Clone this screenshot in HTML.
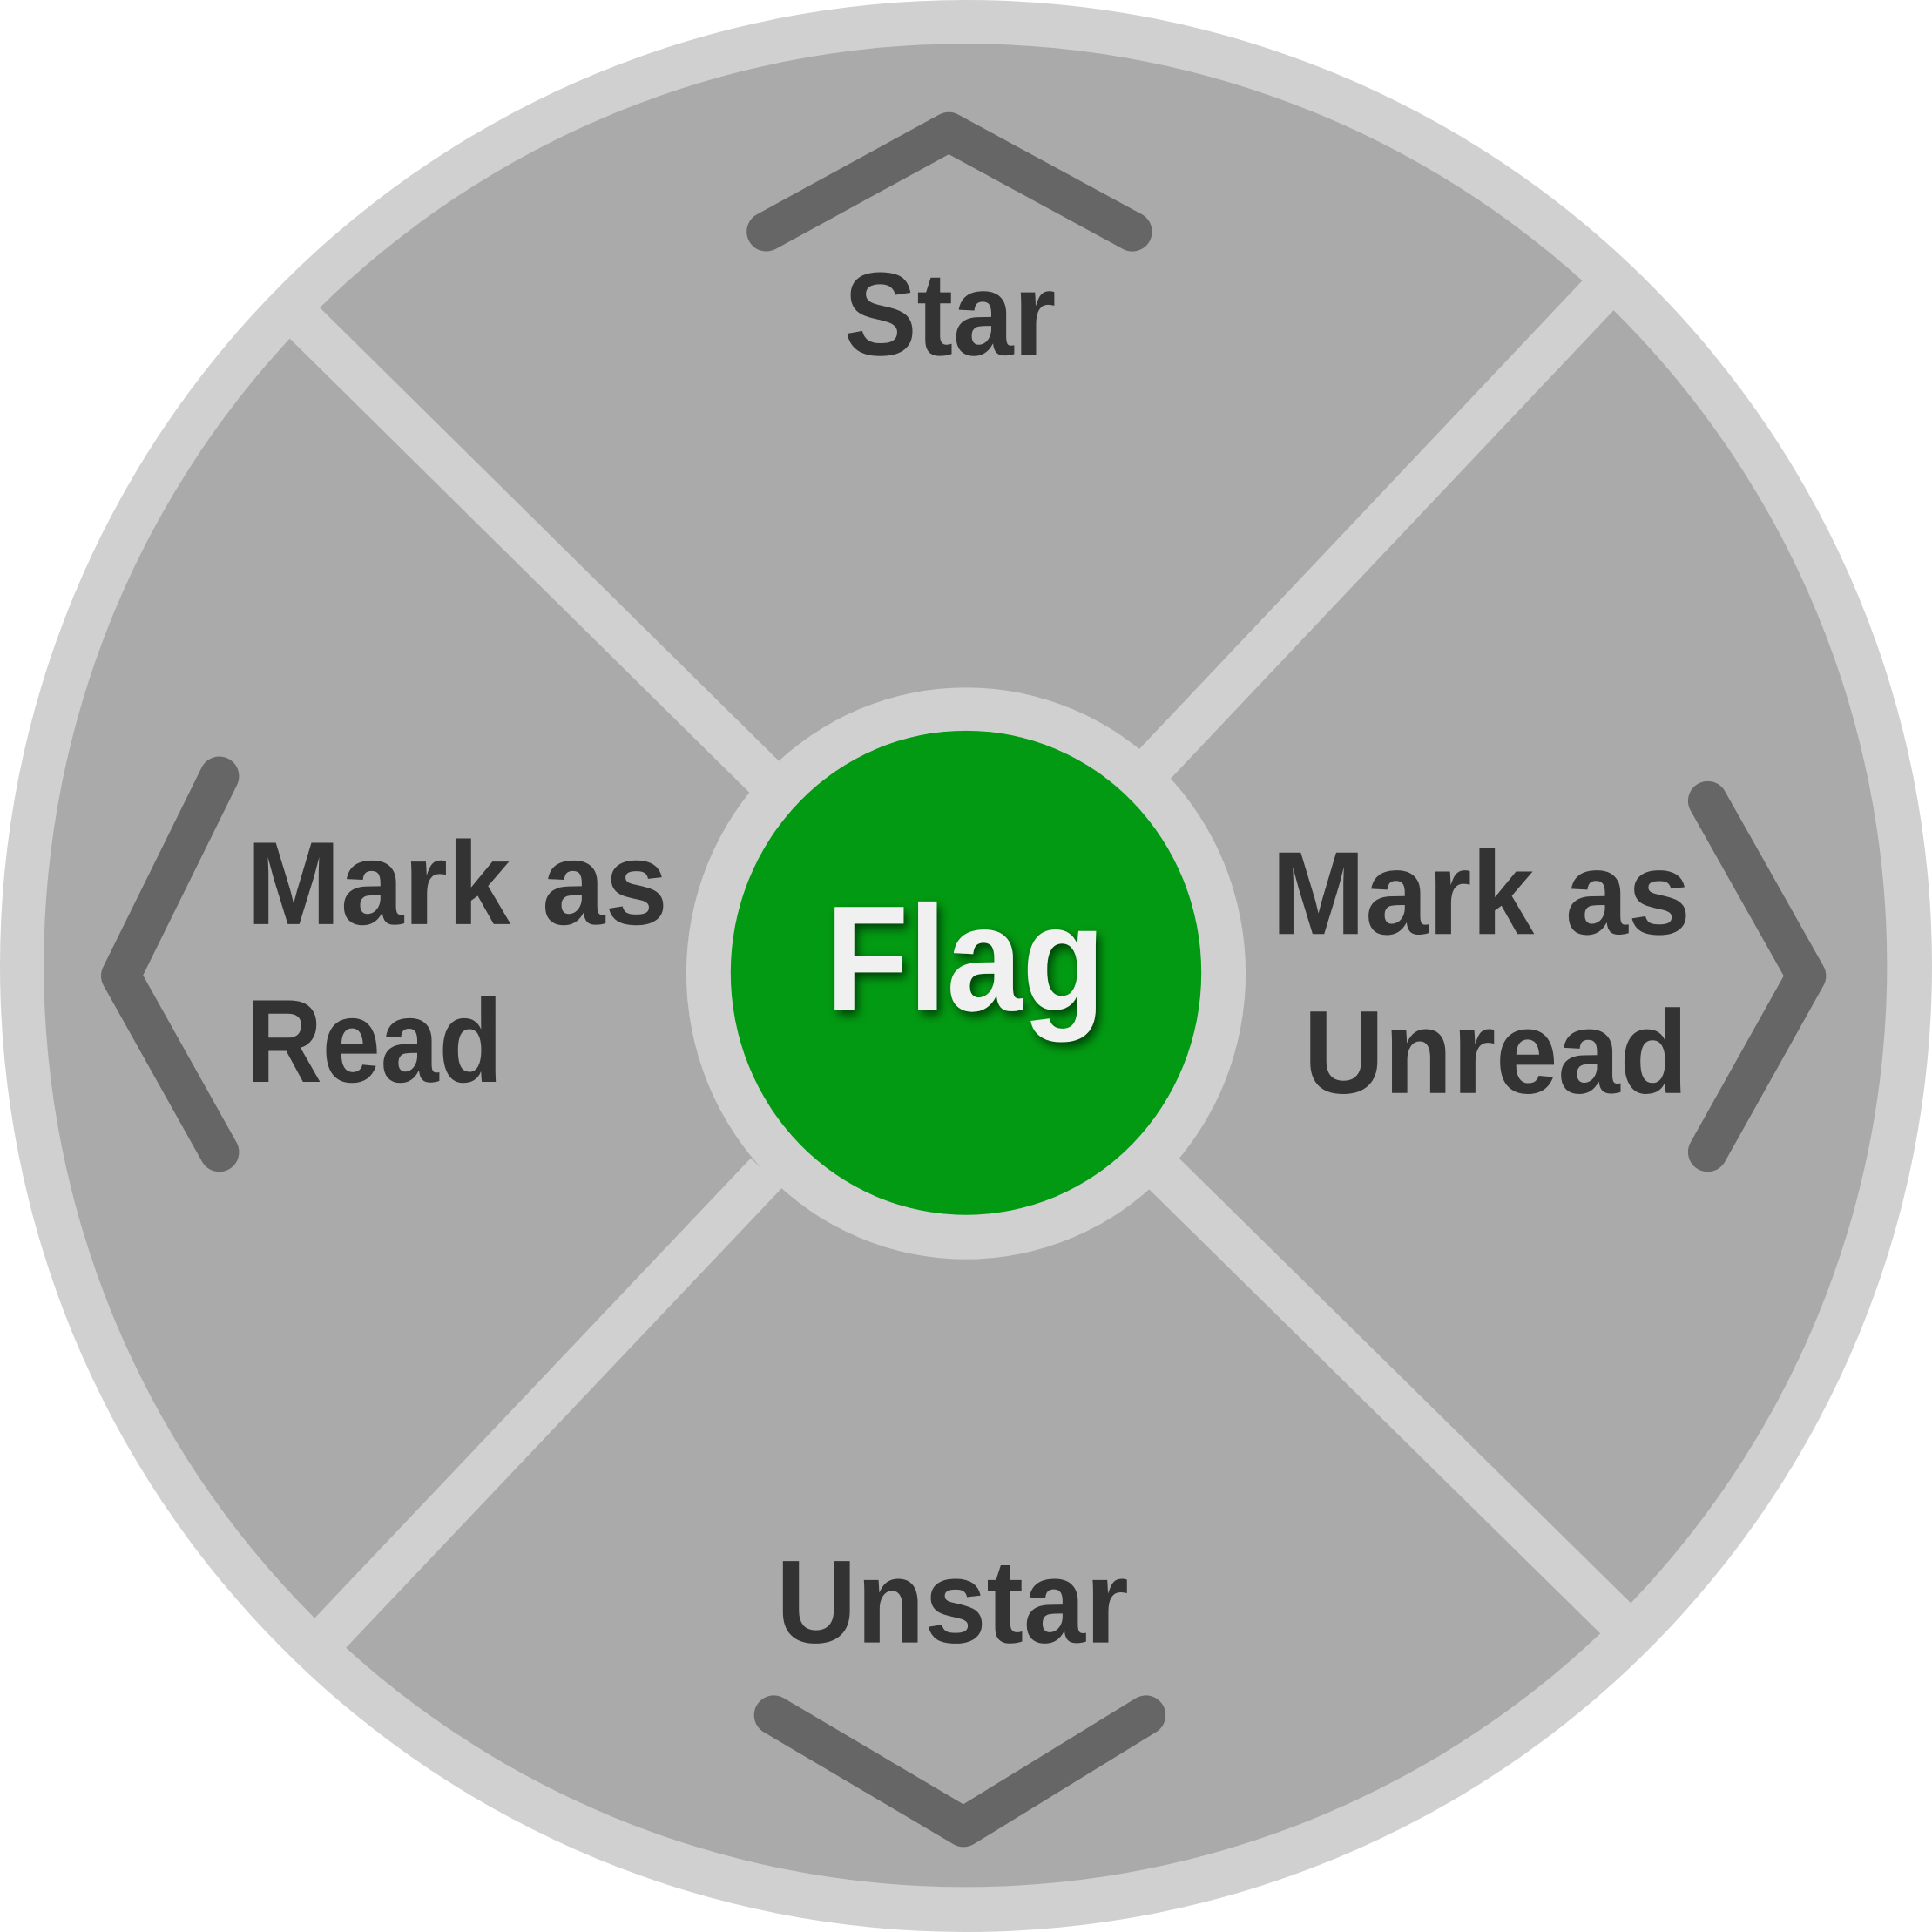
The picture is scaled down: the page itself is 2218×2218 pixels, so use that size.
<!DOCTYPE html>
<html><head><meta charset="utf-8"><style>html,body{margin:0;padding:0;background:#fff}svg{display:block}</style></head>
<body>
<svg width="2218" height="2218" viewBox="0 0 1568 1568" xmlns="http://www.w3.org/2000/svg">
<defs><filter id="sh" x="-20%" y="-20%" width="140%" height="140%"><feGaussianBlur in="SourceAlpha" stdDeviation="4"/><feOffset dx="3" dy="4"/><feComponentTransfer><feFuncA type="linear" slope="0.6"/></feComponentTransfer><feMerge><feMergeNode/><feMergeNode in="SourceGraphic"/></feMerge></filter></defs>
<circle cx="784" cy="784" r="784" fill="#d0d0d0"/>
<circle cx="783.5" cy="783.5" r="748" fill="#aaaaaa"/>
<g stroke="#d0d0d0" stroke-width="35" stroke-linecap="butt">
<line x1="235" y1="250" x2="640" y2="650"/>
<line x1="1309" y1="227" x2="925" y2="633"/>
<line x1="622" y1="952" x2="256" y2="1338"/>
<line x1="935" y1="943" x2="1323" y2="1325"/>
</g>
<ellipse cx="784" cy="790" rx="227" ry="232" fill="#d0d0d0"/>
<ellipse cx="784" cy="789.5" rx="191" ry="196.5" fill="#029a12"/>
<g fill="none" stroke="#666" stroke-width="32" stroke-linecap="round" stroke-linejoin="round">
<polyline points="622,188 770,107 919,188"/>
<polyline points="628,1392 782,1483 930,1392"/>
<polyline points="178,630 98,792 178,935"/>
<polyline points="1386,650 1466,792 1386,935"/>
</g>
<g font-family="'Liberation Sans', sans-serif" font-weight="bold" fill="#333" font-size="96">
<text x="685" y="288" textLength="172" lengthAdjust="spacingAndGlyphs">Star</text>
<text x="200" y="750" textLength="342" lengthAdjust="spacingAndGlyphs">Mark as</text>
<text x="200" y="878" textLength="208" lengthAdjust="spacingAndGlyphs">Read</text>
<text x="1032" y="758" textLength="340" lengthAdjust="spacingAndGlyphs">Mark as</text>
<text x="1058" y="887" textLength="312" lengthAdjust="spacingAndGlyphs">Unread</text>
<text x="630" y="1333" textLength="286" lengthAdjust="spacingAndGlyphs">Unstar</text>
</g>
<text x="670" y="820" font-family="'Liberation Sans', sans-serif" font-weight="bold" font-size="122" fill="#f0f0f0" filter="url(#sh)" textLength="227" lengthAdjust="spacingAndGlyphs">Flag</text>
</svg>
</body></html>
